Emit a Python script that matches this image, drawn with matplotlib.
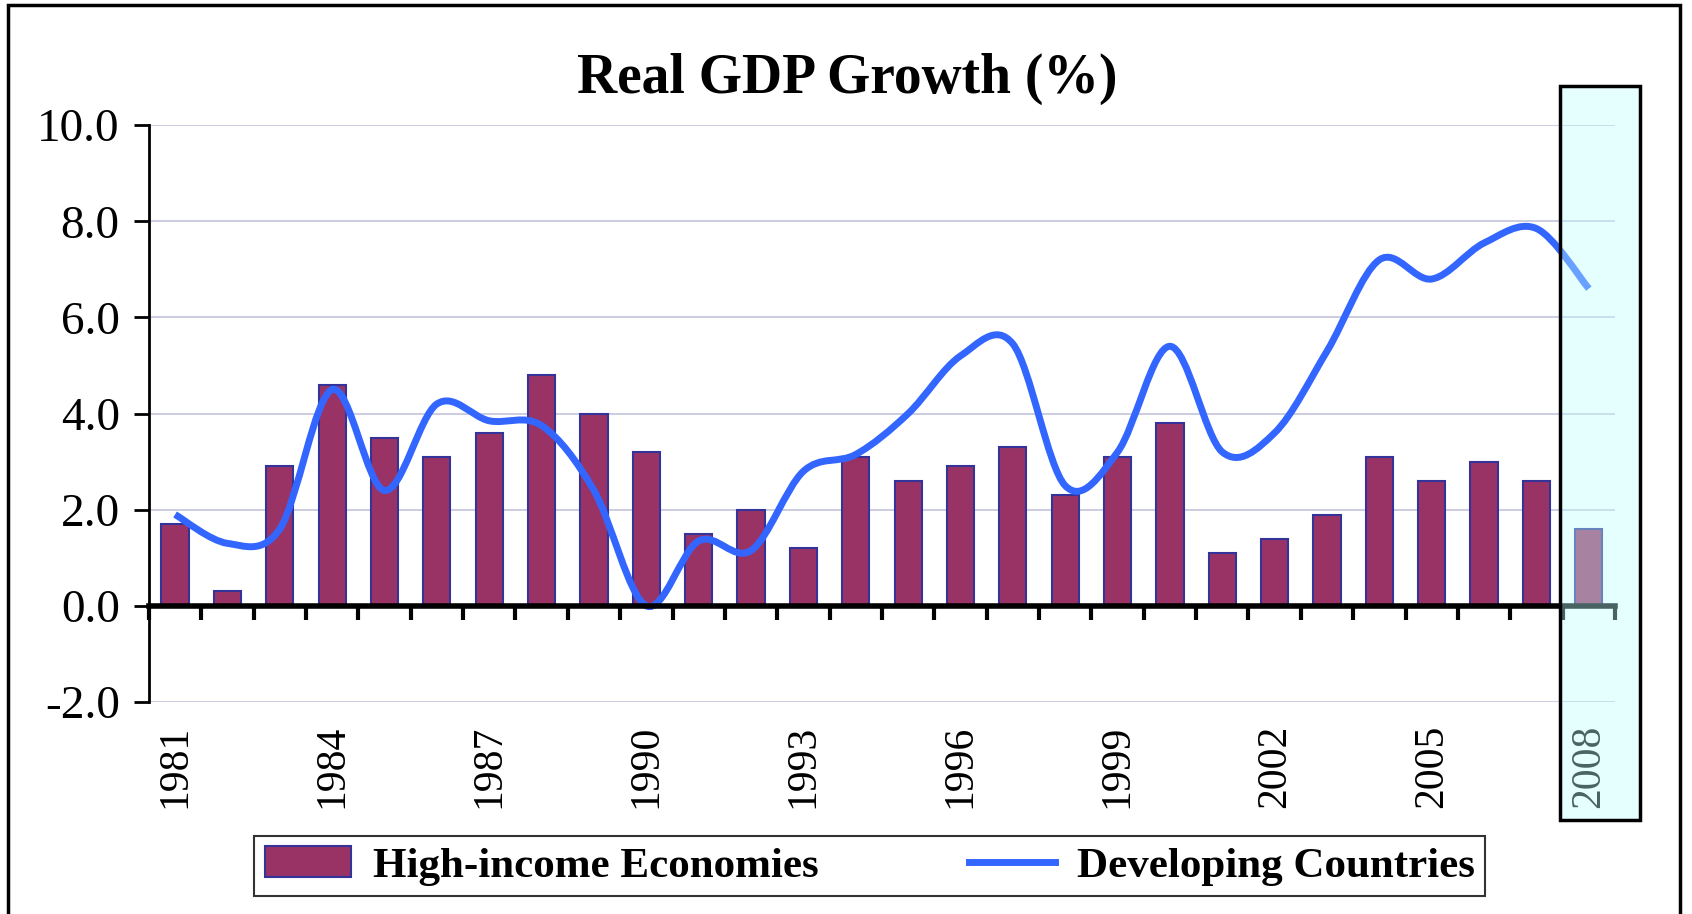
import numpy as np
import matplotlib
matplotlib.use("Agg")
import matplotlib.pyplot as plt
from matplotlib.path import Path
from matplotlib.patches import PathPatch, Rectangle, Patch
from matplotlib.lines import Line2D

plt.rcParams['font.family'] = ['Liberation Serif', 'DejaVu Serif']

years = list(range(1981, 2009))
high_income = [1.7, 0.3, 2.9, 4.6, 3.5, 3.1, 3.6, 4.8, 4.0, 3.2,
               1.5, 2.0, 1.2, 3.1, 2.6, 2.9, 3.3, 2.3, 3.1, 3.8,
               1.1, 1.4, 1.9, 3.1, 2.6, 3.0, 2.6, 1.6]
developing = [1.9, 1.3, 1.6, 4.5, 2.4, 4.2, 3.85, 3.75, 2.4, 0.0,
              1.35, 1.15, 2.8, 3.15, 4.0, 5.2, 5.45, 2.5, 3.2, 5.4,
              3.2, 3.6, 5.3, 7.2, 6.8, 7.55, 7.85, 6.6]
year_labels = [str(y) if (y - 1981) % 3 == 0 else '' for y in years]

bar_col = '#993366'
edge_col = '#333399'
line_col = '#3366FF'

fig = plt.figure(figsize=(16.92, 9.14), dpi=100)
ax = fig.add_axes([0.088, 0.232, 0.8665, 0.631])

x = np.arange(len(years))
ax.bar(x, high_income, width=0.52, color=bar_col, edgecolor=edge_col,
       linewidth=1.5, zorder=2)

# smoothed line (bezier through the yearly points, like excel's smoothing)
pts = np.column_stack([x, developing]).astype(float)
verts = [tuple(pts[0])]
codes = [Path.MOVETO]
n = len(pts)
for i in range(n - 1):
    p0 = pts[i - 1] if i > 0 else pts[i]
    p1 = pts[i]
    p2 = pts[i + 1]
    p3 = pts[i + 2] if i + 2 < n else pts[i + 1]
    c1 = p1 + (p2 - p0) / 6.0
    c2 = p2 - (p3 - p1) / 6.0
    verts += [tuple(c1), tuple(c2), tuple(p2)]
    codes += [Path.CURVE4] * 3
ax.add_patch(PathPatch(Path(verts, codes), facecolor='none', edgecolor=line_col,
                       linewidth=5, capstyle='butt', zorder=3))

ax.set_xlim(-0.5, len(years) - 0.5)
ax.set_ylim(-2, 10)
ax.set_yticks(np.arange(-2, 10.1, 2))
ax.set_yticklabels(['%.1f' % v for v in np.arange(-2, 10.1, 2)], fontsize=34)
ax.yaxis.grid(True, color='#C4C4DC', linewidth=1.2)
ax.set_axisbelow(True)

for s in ['top', 'right']:
    ax.spines[s].set_visible(False)
ax.spines['left'].set_linewidth(2)
ax.spines['bottom'].set_position(('data', 0))
ax.spines['bottom'].set_linewidth(4)
ax.spines['bottom'].set_zorder(4)
ax.tick_params(axis='y', length=11, width=2, pad=10, direction='out')
ax.set_xticks(np.arange(-0.5, len(years), 1.0))
ax.tick_params(axis='x', length=10, width=3, labelbottom=False, direction='out')

sec = ax.secondary_xaxis(-0.04, transform=ax.get_xaxis_transform())
sec.set_xticks(x)
sec.set_xticklabels(year_labels, rotation=90, fontsize=30)
sec.tick_params(length=0, pad=0)
sec.spines['bottom'].set_visible(False)
for lab in sec.get_xticklabels():
    lab.set_verticalalignment('top')

fig.text(0.5006, 0.914, 'Real GDP Growth (%)', fontsize=40, fontweight='bold',
         ha='center', va='center')

handles = [Patch(facecolor=bar_col, edgecolor=edge_col, linewidth=1.5),
           Line2D([], [], color=line_col, linewidth=5)]
leg = fig.legend(handles, ['High-income Economies', 'Developing Countries'],
                 loc='center', bbox_to_anchor=(0.514, 0.0525), ncol=2,
                 prop={'weight': 'bold', 'size': 31}, frameon=True,
                 fancybox=False, edgecolor='black', columnspacing=3.5,
                 handlelength=2.0, borderpad=0.25, handletextpad=0.5,
                 borderaxespad=0)
leg.get_frame().set_linewidth(1.5)

# highlighted forecast year
fig.patches.append(Rectangle((0.922, 0.103), 0.047, 0.803, transform=fig.transFigure,
                             facecolor='#BEFFFF', alpha=0.39, edgecolor='none',
                             zorder=5))
fig.patches.append(Rectangle((0.922, 0.103), 0.047, 0.803, transform=fig.transFigure,
                             facecolor='none', edgecolor='black', linewidth=2.5,
                             zorder=6))
# outer frame
fig.patches.append(Rectangle((0.005, -0.02), 0.988, 1.014, transform=fig.transFigure,
                             facecolor='none', edgecolor='black', linewidth=2.5,
                             zorder=6))

fig.savefig('out.png', dpi=100)
